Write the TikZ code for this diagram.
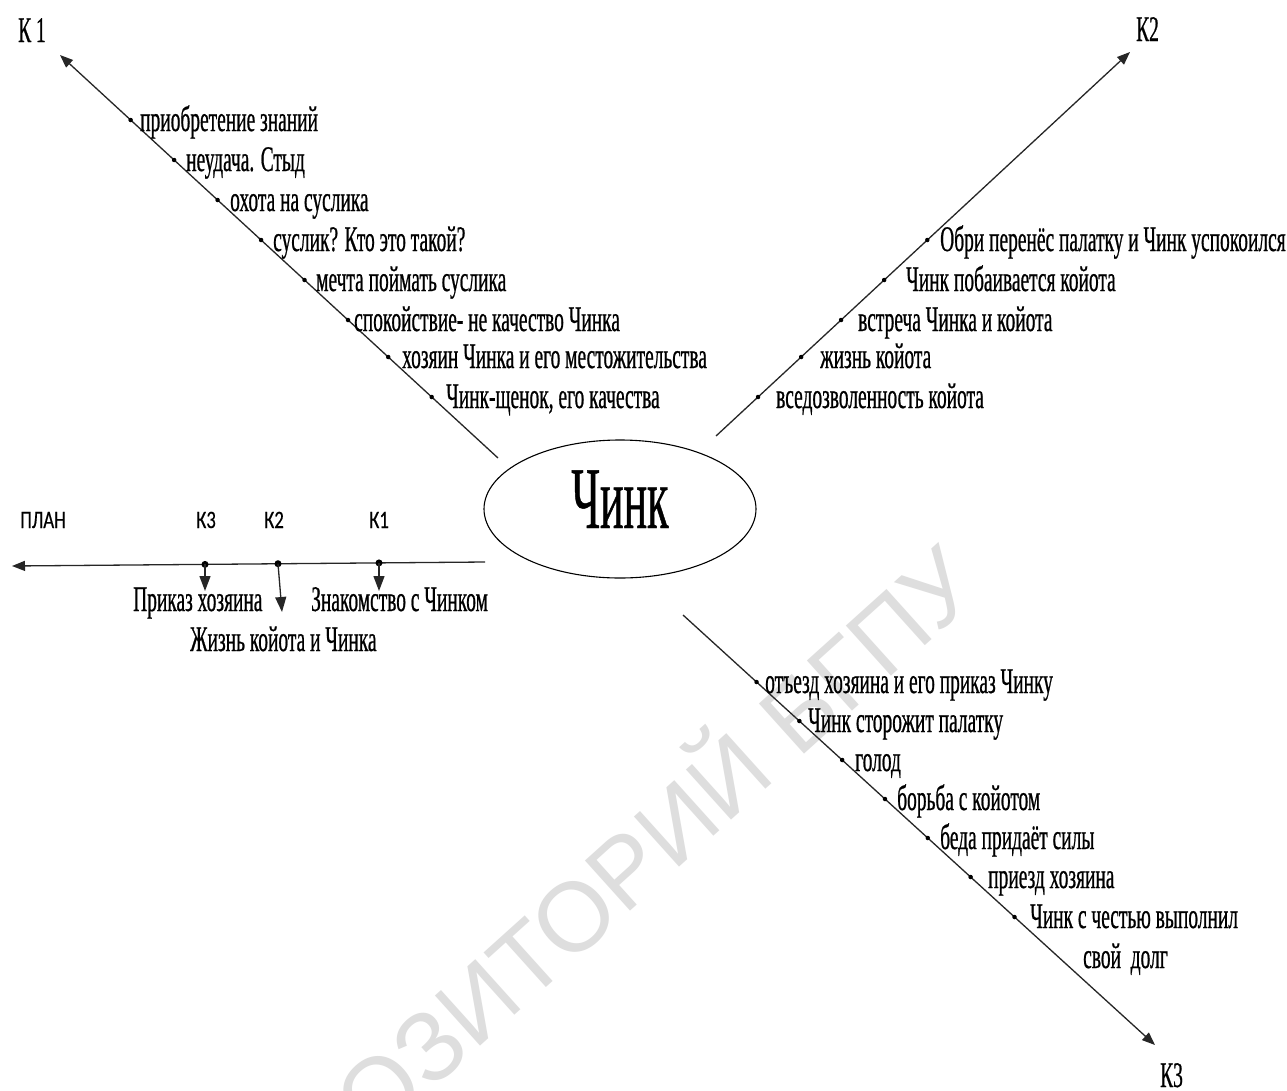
\documentclass[tikz,border=0pt]{standalone}
\usepackage{fontspec}
\setmainfont{Liberation Serif}
\newfontfamily\tnr[FakeStretch=0.54,FakeBold=0.6]{Liberation Serif}
\newfontfamily\tnrbig[FakeStretch=0.5,FakeBold=0.5]{Liberation Serif}
\newfontfamily\calc[FakeStretch=0.75,FakeBold=0.4]{Carlito}
\newfontfamily\wmfont{Liberation Sans}
\usetikzlibrary{arrows.meta,shapes.geometric}
\tikzset{
  ln/.style={line width=1.3pt, draw=black!85},
  tip/.style={-{Triangle[length=13pt,width=10pt]}},
  ptip/.style={-{Triangle[length=15pt,width=11pt]}},
  dot/.style={circle, fill=black, inner sep=0pt, minimum size=4.5pt},
  pdot/.style={circle, fill=black, inner sep=0pt, minimum size=7pt},
  item/.style={anchor=base west, inner sep=0pt, font=\tnr\fontsize{36}{42}\selectfont},
  plab/.style={anchor=base, inner sep=0pt, font=\calc\fontsize{25}{30}\selectfont},
  wmark/.style={text=black!13, font=\wmfont\fontsize{98}{110}\selectfont, inner sep=0pt}
}
\begin{document}
\begin{tikzpicture}[x=1pt,y=-1pt]
\useasboundingbox (0,0) rectangle (1287,1090);
\fill[white] (0,0) rectangle (1287,1090);
% watermark
\node[wmark, rotate=42, anchor=east] (wm) at (955,560) {РЕПОЗИТОРИЙ БГПУ};
% centre
\node[draw, ellipse, line width=1.1pt, minimum width=272pt, minimum height=138pt, inner sep=0pt] (chink) at (620,509) {};
\node[anchor=base, inner sep=0pt, font=\tnrbig\fontsize{88}{100}\selectfont] (chinktxt) at (620,528) {Чинк};
% branch end points
\coordinate (k1s) at (498,458); \coordinate (k1e) at (60,55);
\coordinate (k2s) at (716,436); \coordinate (k2e) at (1130,52);
\coordinate (k3s) at (683,615); \coordinate (k3e) at (1155,1045);
\draw[ln,tip] (k1s) -- (k1e);
\draw[ln,tip] (k2s) -- (k2e);
\draw[ln,tip] (k3s) -- (k3e);
\node[item] (lk1) at (18,42) {К 1};
\node[item] (lk2) at (1136,41) {К2};
\node[item] (lk3) at (1160,1087) {К3};
% K1 items
\foreach \yy/\tx/\t [count=\i] in {120/140/{приобретение знаний},160/186/{неудача. Стыд},200/230/{охота на суслика},240/273/{суслик? Кто это такой?},280/316/{мечта поймать суслика},320/354/{спокойствие- не качество Чинка},357/402/{хозяин Чинка и его местожительства},397/446/{Чинк-щенок, его качества}}{
  \pgfmathsetmacro\bx{60+(\yy-55)*1.0868}
  \node[dot] (a\i) at (\bx,\yy) {};
  \node[item] (ta\i) at (\tx,\yy+11) {\t};
}
% K2 items
\foreach \yy/\tx/\t [count=\i] in {240/940/{Обри перенёс палатку и Чинк успокоился},280/906/{Чинк побаивается койота},320/858/{встреча Чинка и койота},357/820/{жизнь койота},397/776/{вседозволенность койота}}{
  \pgfmathsetmacro\bx{716+(436-\yy)*1.078}
  \node[dot] (b\i) at (\bx,\yy) {};
  \node[item] (tb\i) at (\tx,\yy+11) {\t};
}
% K3 items
\foreach \yy/\tx/\t [count=\i] in {682/765/{отъезд хозяина и его приказ Чинку},721/808/{Чинк сторожит палатку},760/855/{голод},799/897/{борьба с койотом},838/940/{беда придаёт силы},877/988/{приезд хозяина},917/1030/{Чинк с честью выполнил}}{
  \pgfmathsetmacro\bx{683+(\yy-615)*1.0977}
  \node[dot] (c\i) at (\bx,\yy) {};
  \node[item] (tc\i) at (\tx,\yy+11) {\t};
}
\node[item] (tc8) at (1083,968) {свой\ \ долг};
% plan
\coordinate (ps) at (485,562); \coordinate (pe) at (12,566);
\draw[ln,tip] (ps) -- (pe);
\node[pdot] (p3) at (205,564.4) {};
\node[pdot] (p2) at (278,563.7) {};
\node[pdot] (p1) at (379,562.9) {};
\coordinate (q3) at (205,591); \coordinate (q2) at (282,612); \coordinate (q1) at (379,591);
\draw[ln,ptip] (p3.center) -- (q3);
\draw[ln,ptip] (p2.center) -- (q2);
\draw[ln,ptip] (p1.center) -- (q1);
\node[plab, anchor=base west] (plan) at (20,528) {ПЛАН};
\node[plab] (pk3) at (206,528) {К3};
\node[plab] (pk2) at (274,528) {К2};
\node[plab] (pk1) at (379,528) {К1};
\node[item] (pt3) at (133,611) {Приказ хозяина};
\node[item] (pt1) at (311,611) {Знакомство с Чинком};
\node[item] (pt2) at (190,651) {Жизнь койота и Чинка};
\end{tikzpicture}
\end{document}
